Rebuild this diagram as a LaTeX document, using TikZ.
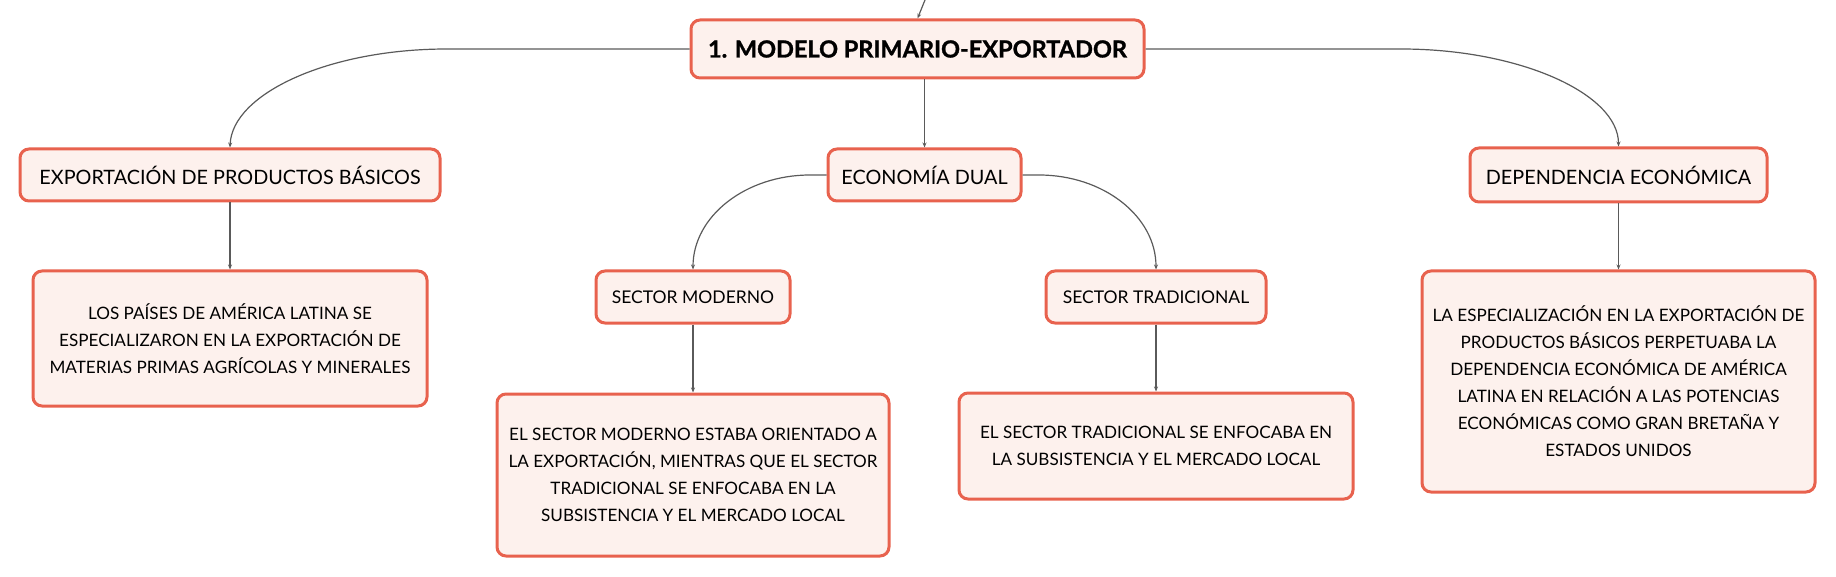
\documentclass[tikz,border=0pt]{standalone}
\usepackage{fontspec}
\setmainfont{Lato}
\newfontfamily\titlefont{Lato}[BoldFeatures={FakeBold=1.2}]
\usetikzlibrary{arrows.meta}
\definecolor{boxborder}{RGB}{232,98,78}
\definecolor{boxfill}{RGB}{253,241,237}
\definecolor{linkgray}{RGB}{90,90,90}
\tikzset{
  box/.style={draw=boxborder, fill=boxfill, line width=3pt, rounded corners=9pt,
    inner sep=0pt, align=center, text=black},
  topicbox/.style={box, font=\fontsize{19.8}{24}\selectfont},
  subbox/.style={box, font=\fontsize{17.5}{22}\selectfont},
  textbox/.style={box, font=\fontsize{17.1}{27}\selectfont},
  mainbox/.style={box, font=\titlefont\fontsize{23.5}{28}\selectfont\bfseries},
  link/.style={draw=linkgray, line width=1.2pt, -{Stealth[length=5pt,width=4pt]}},
}
\begin{document}
\begin{tikzpicture}[x=1pt,y=-1pt]
\useasboundingbox (0,0) rectangle (1836,577);
\node[mainbox, minimum width=453, minimum height=58] (main) at (917.5,49) {1. MODELO PRIMARIO-EXPORTADOR};
\node[topicbox, minimum width=420, minimum height=52] (exp) at (230,175) {EXPORTACIÓN DE PRODUCTOS BÁSICOS};
\node[topicbox, minimum width=193, minimum height=52] (eco) at (924.5,175) {ECONOMÍA DUAL};
\node[topicbox, minimum width=297, minimum height=54] (dep) at (1618.5,175) {DEPENDENCIA ECONÓMICA};
\node[textbox, minimum width=394, minimum height=135] (pai) at (230,338.5) {LOS PAÍSES DE AMÉRICA LATINA SE\\ESPECIALIZARON EN LA EXPORTACIÓN DE\\MATERIAS PRIMAS AGRÍCOLAS Y MINERALES};
\node[subbox, minimum width=194, minimum height=52] (sm) at (693,297) {SECTOR MODERNO};
\node[subbox, minimum width=220, minimum height=52] (st) at (1156,297) {SECTOR TRADICIONAL};
\node[textbox, minimum width=392, minimum height=162] (esm) at (693,475) {EL SECTOR MODERNO ESTABA ORIENTADO A\\LA EXPORTACIÓN, MIENTRAS QUE EL SECTOR\\TRADICIONAL SE ENFOCABA EN LA\\SUBSISTENCIA Y EL MERCADO LOCAL};
\node[textbox, minimum width=394, minimum height=106] (est) at (1156,446) {EL SECTOR TRADICIONAL SE ENFOCABA EN\\LA SUBSISTENCIA Y EL MERCADO LOCAL};
\node[textbox, minimum width=393, minimum height=221] (esp) at (1618.5,381.5) {LA ESPECIALIZACIÓN EN LA EXPORTACIÓN DE\\PRODUCTOS BÁSICOS PERPETUABA LA\\DEPENDENCIA ECONÓMICA DE AMÉRICA\\LATINA EN RELACIÓN A LAS POTENCIAS\\ECONÓMICAS COMO GRAN BRETAÑA Y\\ESTADOS UNIDOS};
\coordinate (top) at (925,0);
% connectors
\draw[link] (top) -- (main.north);
\draw[link] (main.west) -- (447,49) .. controls (328,49) and (232,94) .. (exp.north);
\draw[link] (main.east) -- (1401,49) .. controls (1520,49) and (1618.5,94) .. (dep.north);
\draw[link] (main.south -| eco.north) -- (eco.north);
\draw[link] (eco.west) -- (810,175) .. controls (746,175) and (693,216) .. (sm.north);
\draw[link] (eco.east) -- (1039,175) .. controls (1103,175) and (1156,216) .. (st.north);
\draw[link] (exp.south) -- (pai.north);
\draw[link] (sm.south) -- (esm.north);
\draw[link] (st.south) -- (est.north);
\draw[link] (dep.south) -- (esp.north);
\end{tikzpicture}
\end{document}
